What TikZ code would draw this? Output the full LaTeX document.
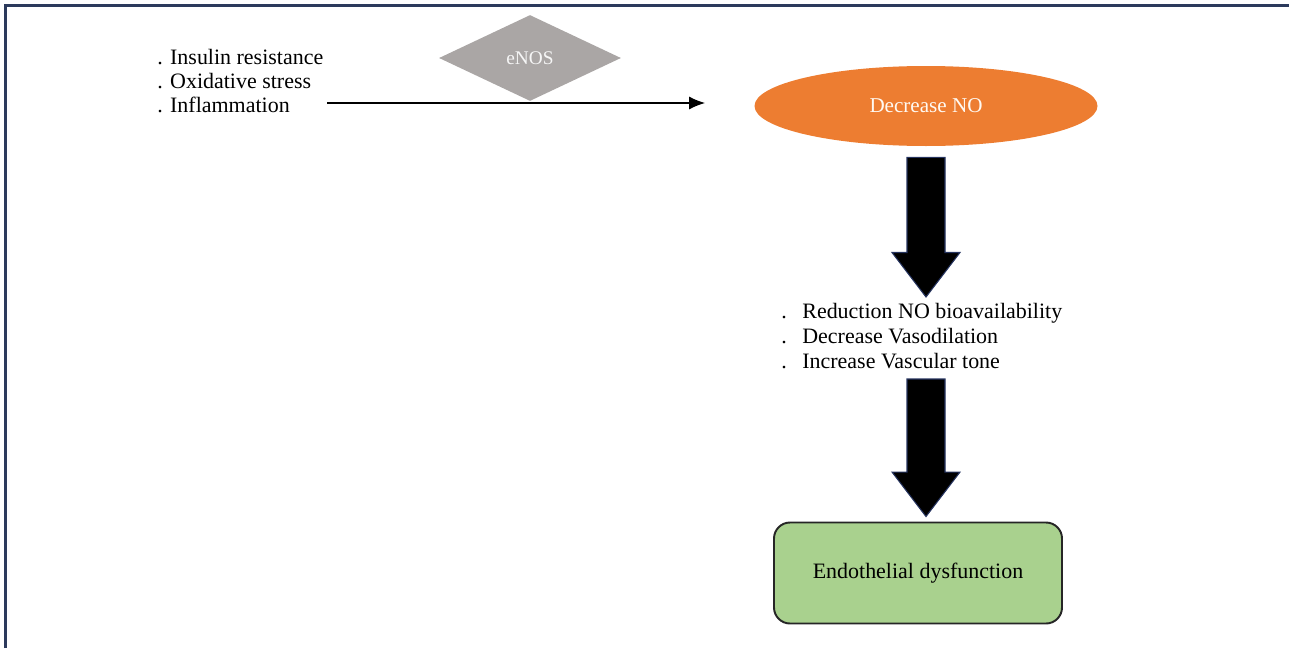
\documentclass[tikz,border=0pt]{standalone}
\usepackage{fontspec}
\setmainfont{Liberation Serif}
\usepackage{tikz}
\usepackage{xcolor}
\usetikzlibrary{calc, arrows.meta, shapes.geometric, positioning}

\definecolor{framenavy}{RGB}{44,58,92}
\definecolor{enosgray}{RGB}{170,166,165}
\definecolor{noorange}{RGB}{237,125,49}
\definecolor{dysgreen}{RGB}{169,209,142}
\definecolor{arrowedge}{RGB}{38,52,96}

\begin{document}
\begin{tikzpicture}[
    listtxt/.style={font=\fontsize{12.5}{13.6}\selectfont, align=left, inner sep=0pt},
    fatarrow/.style={fill=black, draw=arrowedge, line width=0.6pt, line join=miter},
  ]
  % canvas and cropped frame
  \useasboundingbox (0,0) rectangle (25.78,-12.96);
  \draw[framenavy, line width=1.7pt] (0.11,-12.96) -- (0.11,-0.11) -- (25.78,-0.11);
  % risk factors
  \node[listtxt, anchor=west] (causes) at (3.14,-1.62)
    {. Insulin resistance\\. Oxidative stress\\. Inflammation};
  % enzyme
  \node[diamond, fill=enosgray, minimum width=3.64cm, minimum height=1.72cm,
        aspect=2.1, inner sep=0pt, text=white!93!gray,
        font=\fontsize{11}{13}\selectfont] (enos) at (10.6,-1.16) {eNOS};
  % reduced NO
  \node[ellipse, fill=noorange, minimum width=6.86cm, minimum height=1.6cm,
        inner sep=0pt, text=white!95!orange,
        font=\fontsize{12}{14}\selectfont] (dec) at (18.52,-2.12) {Decrease NO};
  \coordinate (arrS) at (6.54,-2.06);
  \coordinate (arrE) at (14.10,-2.06);
  \draw[-{Latex[length=3.2mm, width=2.6mm]}, line width=0.6pt] (arrS) -- (arrE);
  % consequences
  \node[listtxt, anchor=west, font=\fontsize{12.5}{14}\selectfont] (effects) at (15.62,-6.72)
    {\makebox[0.42cm][l]{.}Reduction NO bioavailability\\
     \makebox[0.42cm][l]{.}Decrease Vasodilation\\
     \makebox[0.42cm][l]{.}Increase Vascular tone};
  % outcome
  \node[draw=black!85, line width=1.1pt, fill=dysgreen, rounded corners=0.32cm,
        minimum width=5.76cm, minimum height=2.02cm,
        font=\fontsize{12.5}{14}\selectfont] (dysf) at (18.36,-11.46) {Endothelial dysfunction};
  % block arrows
  \coordinate (topA) at ($(dec.south)+(0,-0.22)$);
  \coordinate (tipA) at (18.52,-5.94);
  \coordinate (topB) at (18.52,-7.58);
  \coordinate (tipB) at ($(dysf.north -| topB)+(0,0.1)$);
  \foreach \s/\e in {topA/tipA, topB/tipB} {
    \draw[fatarrow] ($(\s)+(-0.38,0)$) -- ($(\e)+(-0.38,0.89)$) -- ($(\e)+(-0.68,0.89)$)
      -- (\e) -- ($(\e)+(0.68,0.89)$) -- ($(\e)+(0.38,0.89)$) -- ($(\s)+(0.38,0)$) -- cycle;
  }
\end{tikzpicture}
\end{document}
